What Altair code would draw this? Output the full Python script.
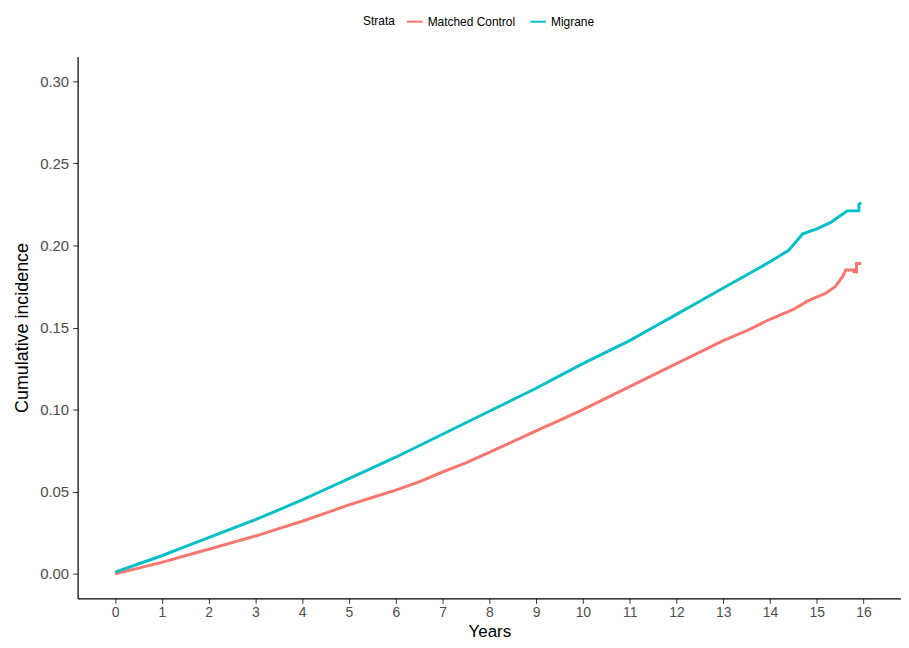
import altair as alt
import pandas as pd

control_years = [0, 0.5, 1, 1.5, 2, 2.5, 3, 3.5, 4, 4.5, 5, 5.5, 6, 6.5, 7, 7.5, 8, 8.5, 9, 9.5, 10, 10.5, 11, 11.5, 12, 12.5, 13, 13.5, 14, 14.5, 14.8, 15.2, 15.4, 15.55, 15.62, 15.8, 15.8, 15.85, 15.85, 15.95]
control_vals = [0.0, 0.0035, 0.007, 0.011, 0.015, 0.019, 0.023, 0.0275, 0.032, 0.037, 0.042, 0.0465, 0.051, 0.056, 0.062, 0.0675, 0.074, 0.0805, 0.087, 0.0935, 0.100, 0.107, 0.114, 0.121, 0.128, 0.135, 0.142, 0.148, 0.155, 0.161, 0.166, 0.171, 0.175, 0.181, 0.185, 0.185, 0.184, 0.184, 0.189, 0.189]

migraine_years = [0, 0.5, 1, 1.5, 2, 2.5, 3, 3.5, 4, 4.5, 5, 5.5, 6, 6.5, 7, 7.5, 8, 8.5, 9, 9.5, 10, 10.5, 11, 11.5, 12, 12.5, 13, 13.5, 14, 14.4, 14.7, 15.0, 15.3, 15.5, 15.65, 15.9, 15.9, 15.95]
migraine_vals = [0.001, 0.006, 0.011, 0.0165, 0.022, 0.0275, 0.033, 0.039, 0.045, 0.0515, 0.058, 0.0645, 0.071, 0.078, 0.085, 0.092, 0.099, 0.106, 0.113, 0.1205, 0.128, 0.135, 0.142, 0.150, 0.158, 0.166, 0.174, 0.182, 0.190, 0.197, 0.207, 0.210, 0.214, 0.218, 0.221, 0.221, 0.225, 0.226]

x_ticks = list(range(0, 17))
y_ticks = [0.00, 0.05, 0.10, 0.15, 0.20, 0.25, 0.30]

df = pd.concat([
    pd.DataFrame({"Years": control_years, "CI": control_vals, "Strata": "Matched Control", "order": range(len(control_years))}),
    pd.DataFrame({"Years": migraine_years, "CI": migraine_vals, "Strata": "Migrane", "order": range(len(migraine_years))}),
])

font = "Liberation Sans"

chart = alt.Chart(df).mark_line(strokeWidth=3, interpolate="linear").encode(
    x=alt.X("Years:Q", scale=alt.Scale(domain=[-0.8, 16.8], nice=False, zero=False),
            axis=alt.Axis(values=x_ticks, format="d", title="Years", grid=False,
                          labelFontSize=14, labelPadding=2,
                          titleY=38, titleBaseline="alphabetic", titleFontSize=17)),
    y=alt.Y("CI:Q", scale=alt.Scale(domain=[-0.015, 0.315], nice=False, zero=False),
            axis=alt.Axis(values=y_ticks, format=".2f", title="Cumulative incidence", grid=False)),
    color=alt.Color("Strata:N",
                    scale=alt.Scale(domain=["Matched Control", "Migrane"], range=["#F8766D", "#00BFC4"]),
                    legend=alt.Legend(orient="none", legendX=287, legendY=-44, direction="horizontal",
                                      titleOrient="left", symbolType="stroke", symbolStrokeWidth=2,
                                      symbolSize=250, labelFontSize=12, titleFontSize=12,
                                      titleFontWeight="normal", labelFont=font, titleFont=font,
                                      columnPadding=10, titlePadding=10)),
    order="order:Q",
).properties(
    width=828, height=545,
    autosize=alt.AutoSizeParams(type="none"),
    padding={"left": 70, "top": 47, "right": 0, "bottom": 40},
).configure_view(stroke=None).configure_axis(
    domainColor="#000000", domainWidth=1.2, tickColor="#333333", tickSize=5, tickWidth=1,
    labelFont=font, labelFontSize=15, labelColor="#4D4D4D", labelPadding=4,
    titleFont=font, titleFontSize=18, titleFontWeight="normal", titleColor="#000000",
).configure_axisY(titlePadding=8)

chart.save("out.html", embed_options={"renderer": "svg", "actions": False})
